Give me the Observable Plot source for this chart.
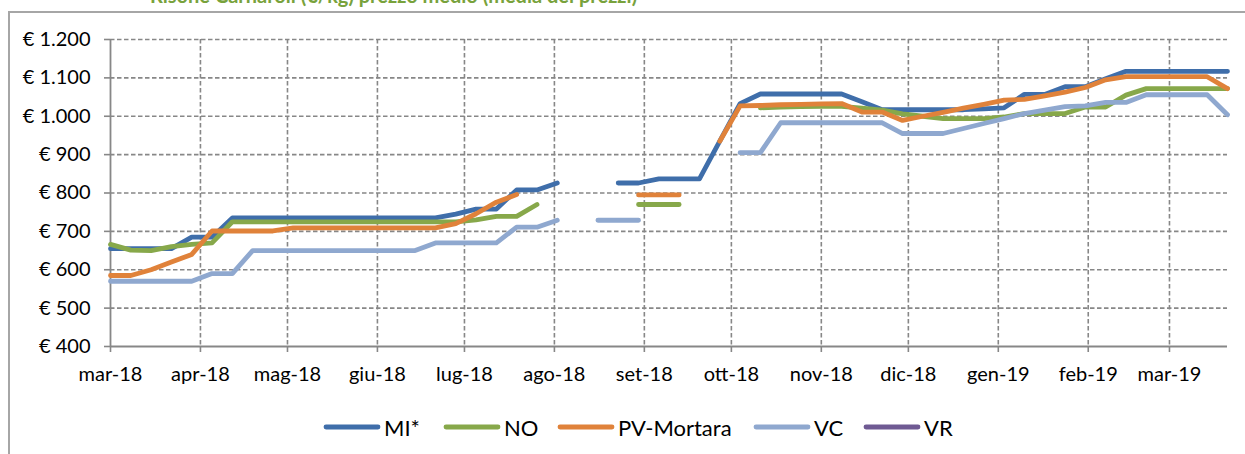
<!DOCTYPE html>
<html>
<head>
<meta charset="utf-8">
<script src="https://cdn.jsdelivr.net/npm/d3@7"></script>
<script src="https://cdn.jsdelivr.net/npm/@observablehq/plot@0.6"></script>
<style>
  html, body { margin: 0; padding: 0; background: #fff; width: 1245px; height: 454px; overflow: hidden; position: relative; font-family: Lato, "Open Sans", sans-serif; }
  #frame { position: absolute; left: 8px; top: 11px; width: 1400px; height: 600px; border-left: 2px solid #a6a6a6; border-top: 2px solid #a6a6a6; box-sizing: border-box; }
  #title { position: absolute; left: 150px; top: -15px; font-size: 20px; line-height: 20px; font-weight: bold; color: #78a23c; white-space: nowrap; }
  #chart { position: absolute; left: 0; top: 0; }
  #legend { position: absolute; left: 0; top: 414px; width: 1245px; height: 26px; font-size: 22px; color: #000; }
  .item { position: absolute; top: 0; height: 26px; display: flex; align-items: center; }
  .item svg { display: block; margin-right: 3px; }
</style>
</head>
<body>
<div id="frame"></div>
<div id="title">Risone Carnaroli (€/kg) prezzo medio (media dei prezzi)</div>
<div id="chart"></div>
<div id="legend"></div>
<script>
// ---- data ----
const dates = [
  "2018-03-01","2018-03-08","2018-03-15","2018-03-22","2018-03-29","2018-04-05","2018-04-12","2018-04-19",
  "2018-04-26","2018-05-03","2018-05-10","2018-05-17","2018-05-24","2018-05-31","2018-06-07","2018-06-14",
  "2018-06-21","2018-06-28","2018-07-05","2018-07-12","2018-07-19","2018-07-26","2018-08-02","2018-08-09",
  "2018-08-16","2018-08-23","2018-08-30","2018-09-06","2018-09-13","2018-09-20","2018-09-27","2018-10-04",
  "2018-10-11","2018-10-18","2018-10-25","2018-11-01","2018-11-08","2018-11-15","2018-11-22","2018-11-29",
  "2018-12-06","2018-12-13","2018-12-20","2018-12-27","2019-01-03","2019-01-10","2019-01-17","2019-01-24",
  "2019-01-31","2019-02-07","2019-02-14","2019-02-21","2019-02-28","2019-03-07","2019-03-14","2019-03-21"
];
const seriesNames = ["MI*", "NO", "PV-Mortara", "VC", "VR"];
const seriesColors = ["#3f6eaa", "#87a84a", "#e0823a", "#8fa8cf", "#6f5a93"];
const MI = [655,655,655,655,685,685,735,735,735,735,735,735,735,735,735,735,
            735,745,758,758,808,808,826,null,null,826,826,837,837,837,935,1033,
            1058,1058,1058,1058,1058,1038,1017,1017,1017,1017,1017,1019,1022,1057,1057,1077,
            1077,1098,1117,1117,1117,1117,1117,1117];
const NO = [666,651,650,660,666,670,725,725,725,725,725,725,725,725,725,725,
            725,725,730,739,739,770,null,null,null,null,770,770,770,null,null,null,
            1022,1024,1025,1026,1026,1021,1016,1006,1000,994,994,994,998,1007,1007,1007,
            1024,1024,1055,1072,1072,1072,1072,1072];
const PV = [585,585,600,620,640,701,701,701,701,709,709,709,709,709,709,709,
            709,720,746,776,796,null,null,null,null,null,795,795,795,null,935,1027,
            1028,1030,1031,1032,1033,1011,1011,989,1000,1010,1021,1031,1042,1044,1053,1063,
            1075,1095,1103,1103,1103,1103,1103,1072];
const VC = [570,570,570,570,570,590,590,650,650,650,650,650,650,650,650,650,
            670,670,670,670,711,711,729,null,729,729,729,null,null,null,null,905,
            905,983,983,983,983,983,983,955,955,955,968,981,994,1007,1016,1025,
            1027,1036,1036,1056,1056,1056,1056,1004];
const VR = dates.map(() => null);
const yTicks = [400,500,600,700,800,900,1000,1100,1200];
const monthNames = ["gen","feb","mar","apr","mag","giu","lug","ago","set","ott","nov","dic"];
const xTickDates = ["2018-03-01","2018-04-01","2018-05-01","2018-06-01","2018-07-01","2018-08-01","2018-09-01",
                    "2018-10-01","2018-11-01","2018-12-01","2019-01-01","2019-02-01","2019-03-01"];

// ---- build ----
const parse = d3.utcParse("%Y-%m-%d");
const D = dates.map(parse);
const T = xTickDates.map(parse);
const allSeries = [MI, NO, PV, VC, VR];
const rows = [];
allSeries.forEach((vals, s) => vals.forEach((v, i) => rows.push({date: D[i], value: v, series: seriesNames[s]})));

const itLocale = d3.formatLocale({decimal: ",", thousands: ".", grouping: [3], currency: ["€ ", ""]});
const fmtNum = itLocale.format(",.0f");
const fmtDate = d => monthNames[d.getUTCMonth()] + "-" + String(d.getUTCFullYear()).slice(2);
const gridColor = "#878787";

const chart = Plot.plot({
  width: 1245,
  height: 400,
  marginLeft: 110,
  marginRight: 18,
  marginTop: 39,
  marginBottom: 54,
  style: {fontFamily: "Lato, 'Open Sans', sans-serif", fontSize: "20px", color: "#000", background: "transparent", overflow: "visible"},
  x: {type: "utc", domain: [D[0], D[D.length - 1]]},
  y: {domain: [400, 1200]},
  color: {domain: seriesNames, range: seriesColors},
  marks: [
    Plot.gridX(T.slice(1), {stroke: gridColor, strokeOpacity: 1, strokeWidth: 1.6, strokeDasharray: "4.5,2.5"}),
    Plot.gridY(yTicks.slice(1), {stroke: gridColor, strokeOpacity: 1, strokeWidth: 1.6, strokeDasharray: "4.5,2.5"}),
    Plot.ruleX([D[0]], {stroke: gridColor, strokeWidth: 1.8}),
    Plot.ruleY([400], {stroke: gridColor, strokeWidth: 1.8}),
    Plot.axisY(yTicks, {tickSize: 6, tickPadding: 14, stroke: gridColor, strokeWidth: 1.6, tickFormat: d => "€ " + fmtNum(d), label: null, fill: "#000"}),
    Plot.axisX(T, {tickSize: 6, tickPadding: 14, stroke: gridColor, strokeWidth: 1.6, tickFormat: fmtDate, label: null, fill: "#000"}),
    Plot.line(rows, {x: "date", y: "value", z: "series", stroke: "series", strokeWidth: 4.8, strokeLinecap: "round", strokeLinejoin: "round"})
  ]
});
document.getElementById("chart").appendChild(chart);

// legend
const legend = document.getElementById("legend");
const legendLeft = [323, 443, 557, 753, 863];
seriesNames.forEach((name, i) => {
  const item = document.createElement("div");
  item.className = "item";
  item.style.left = legendLeft[i] + "px";
  item.innerHTML = `<svg width="58" height="10"><line x1="3" y1="5" x2="55" y2="5" stroke="${seriesColors[i]}" stroke-width="4.8" stroke-linecap="round"/></svg><span>${name}</span>`;
  legend.appendChild(item);
});
</script>
</body>
</html>
